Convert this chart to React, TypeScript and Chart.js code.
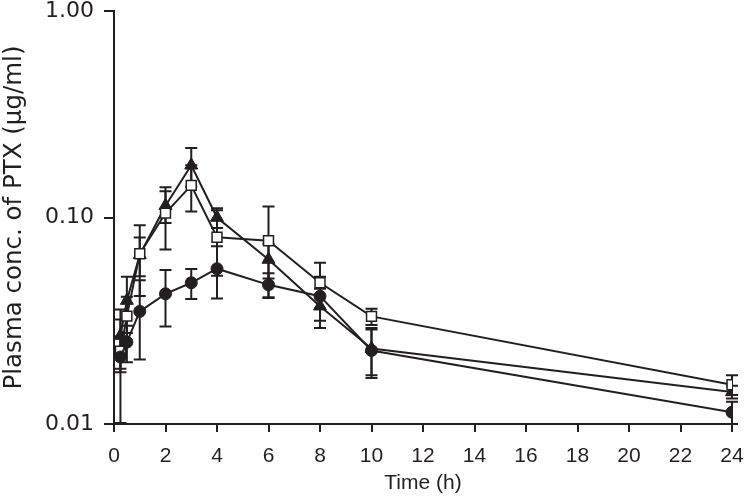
import React, { useEffect, useRef } from "react";
import { Chart, registerables } from "chart.js";

Chart.register(...registerables);

const times = [0.25, 0.5, 1, 2, 3, 4, 6, 8, 10, 24];
const circleMean = [0.0211, 0.0249, 0.0351, 0.0427, 0.0483, 0.0565, 0.0472, 0.0416, 0.0227, 0.0114];
const circleSD = [0.011, 0.005, 0.0146, 0.013, 0.008, 0.016, 0.0065, 0.01, 0.006, 0.0014];
const squareMean = [0.0225, 0.0333, 0.0667, 0.105, 0.143, 0.0803, 0.0771, 0.0483, 0.0332, 0.0155];
const squareSD = [0.004, 0.008, 0.025, 0.035, 0.036, 0.028, 0.036, 0.012, 0.003, 0.0017];
const triangleMean = [0.0268, 0.0396, 0.066, 0.114, 0.179, 0.1, 0.0626, 0.0372, 0.0232, 0.0143];
const triangleSD = [0.009, 0.012, 0.014, 0.02, 0.038, 0.011, 0.012, 0.008, 0.006, 0.001];
const xTicks = [0, 2, 4, 6, 8, 10, 12, 14, 16, 18, 20, 22, 24];
const yTicks = [0.01, 0.1, 1];
const yTickLabels = ["0.01", "0.10", "1.00"];

const FONT = "'Liberation Sans', Arial, Helvetica, sans-serif";
const YFONT = "'DejaVu Sans', 'Liberation Sans', sans-serif";
const INK = "#231f20";

const errorBarPlugin = {
  id: "errorBars",
  beforeDatasetsDraw(chart: any) {
    const ctx = chart.ctx;
    const xs = chart.scales.x;
    const ys = chart.scales.y;
    ctx.save();
    ctx.strokeStyle = INK;
    ctx.lineWidth = 2;
    chart.data.datasets.forEach((ds: any) => {
      const sd: number[] = ds.sd;
      ds.data.forEach((p: any, i: number) => {
        const x = xs.getPixelForValue(p.x);
        const hi = ys.getPixelForValue(p.y + sd[i]);
        const lo = ys.getPixelForValue(Math.max(p.y - sd[i], 0.0100001));
        const cap = 6;
        ctx.beginPath();
        ctx.moveTo(x, hi);
        ctx.lineTo(x, lo);
        ctx.moveTo(x - cap, hi);
        ctx.lineTo(x + cap, hi);
        ctx.moveTo(x - cap, lo);
        ctx.lineTo(x + cap, lo);
        ctx.stroke();
      });
    });
    ctx.restore();
  },
};

function mk(means: number[]) {
  return times.map((t, i) => ({ x: t, y: means[i] }));
}

function zeroPad(s: any) {
  s.paddingTop = 0;
  s.paddingBottom = 0;
  s.paddingLeft = 0;
  s.paddingRight = 0;
}

export default function App() {
  const ref = useRef<HTMLCanvasElement>(null);
  useEffect(() => {
    document.body.style.margin = "0";
    const chart = new Chart(ref.current as HTMLCanvasElement, {
      type: "line",
      data: {
        datasets: [
          {
            label: "circle",
            data: mk(circleMean),
            sd: circleSD,
            borderColor: INK,
            borderWidth: 2,
            backgroundColor: INK,
            pointStyle: "circle",
            pointRadius: 6,
            pointBorderWidth: 1,
            pointBackgroundColor: INK,
            pointBorderColor: INK,
          } as any,
          {
            label: "square",
            data: mk(squareMean),
            sd: squareSD,
            borderColor: INK,
            borderWidth: 2,
            backgroundColor: "#ffffff",
            pointStyle: "rect",
            pointRadius: 7,
            pointBorderWidth: 1.5,
            pointBackgroundColor: "#ffffff",
            pointBorderColor: INK,
          } as any,
          {
            label: "triangle",
            data: mk(triangleMean),
            sd: triangleSD,
            borderColor: INK,
            borderWidth: 2,
            backgroundColor: INK,
            pointStyle: "triangle",
            pointRadius: 7.5,
            pointBorderWidth: 1,
            pointBackgroundColor: INK,
            pointBorderColor: INK,
          } as any,
        ],
      },
      options: {
        animation: false,
        responsive: false,
        maintainAspectRatio: false,
        layout: { padding: { left: 0, right: 15, top: 11, bottom: 0 } },
        plugins: { legend: { display: false }, tooltip: { enabled: false } },
        scales: {
          x: {
            type: "linear",
            min: 0,
            max: 24,
            afterBuildTicks: (s: any) => {
              s.ticks = xTicks.map((v) => ({ value: v }));
            },
            afterFit: (s: any) => {
              s.height = 79;
              zeroPad(s);
            },
            grid: { drawOnChartArea: false, color: INK, lineWidth: 2, tickLength: 8 },
            border: { color: INK, width: 2 },
            ticks: {
              color: INK,
              font: { family: FONT, size: 21 },
              padding: 12,
              maxRotation: 0,
              autoSkip: false,
            },
            title: {
              display: true,
              text: "Time (h)",
              color: INK,
              font: { family: FONT, size: 21 },
              padding: { top: 0, bottom: 7 },
            },
          },
          y: {
            type: "logarithmic",
            min: 0.01,
            max: 1,
            afterBuildTicks: (s: any) => {
              s.ticks = yTicks.map((v) => ({ value: v }));
            },
            afterFit: (s: any) => {
              s.width = 114;
              zeroPad(s);
            },
            grid: { drawOnChartArea: false, color: INK, lineWidth: 2, tickLength: 10 },
            border: { color: INK, width: 2 },
            ticks: {
              color: INK,
              font: { family: YFONT, size: 22 },
              padding: 10,
              autoSkip: false,
              callback: (v: any) => {
                const idx = yTicks.findIndex((t) => Math.abs(t - Number(v)) < 1e-9);
                return idx >= 0 ? yTickLabels[idx] : "";
              },
            },
            title: {
              display: true,
              text: "Plasma conc. of PTX (\u03bcg/ml)",
              color: INK,
              font: { family: YFONT, size: 24.5 },
              padding: { top: 0, bottom: 0 },
            },
          },
        },
      } as any,
      plugins: [errorBarPlugin],
    });
    return () => chart.destroy();
  }, []);
  return (
    <div style={{ width: 747, height: 503 }}>
      <canvas ref={ref} width={747} height={503} style={{ display: "block" }} />
    </div>
  );
}
